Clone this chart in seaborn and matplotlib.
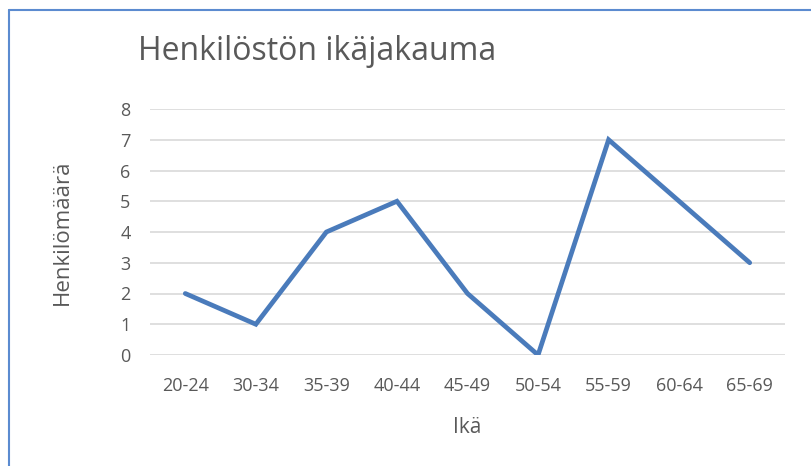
import pandas as pd
import matplotlib.pyplot as plt
from matplotlib.lines import Line2D
import seaborn as sns

# Data
ages = ['20-24', '30-34', '35-39', '40-44', '45-49', '50-54', '55-59', '60-64', '65-69']
counts = [2, 1, 4, 5, 2, 0, 7, 5, 3]

df = pd.DataFrame({'Ikä': ages, 'Henkilömäärä': counts})

sns.set_style("white")
plt.rcParams['font.family'] = ['Open Sans', 'DejaVu Sans']

text_color = '#595959'

fig = plt.figure(figsize=(8.12, 4.66), dpi=100)
ax = fig.add_axes([150 / 812, 1 - 355 / 466, 635 / 812, 246 / 466])

sns.lineplot(data=df, x='Ikä', y='Henkilömäärä', sort=False,
             color='#4a7bbb', linewidth=3.4, ax=ax,
             solid_capstyle='round', solid_joinstyle='miter')

ax.set_xlim(-0.5, len(ages) - 0.5)
ax.set_ylim(0, 8)
ax.set_yticks(range(0, 9))
ax.grid(axis='y', color='#d9d9d9', linewidth=1.2)
ax.set_axisbelow(True)
for s in ax.spines.values():
    s.set_visible(False)
ax.tick_params(axis='both', length=0, labelsize=13, colors=text_color)
ax.tick_params(axis='x', pad=16)
ax.tick_params(axis='y', pad=14)

ax.set_xlabel('Ikä', fontsize=15, color=text_color, labelpad=16)
ax.set_ylabel('Henkilömäärä', fontsize=16, color=text_color, labelpad=34)

fig.text(138 / 812, 1 - 51 / 466, 'Henkilöstön ikäjakauma', fontsize=23,
         color=text_color, va='center', ha='left')

# chart border (top and left edges visible)
border = '#5b8bd0'
fig.add_artist(Line2D([9 / 812, 1], [1 - 10 / 466, 1 - 10 / 466], color=border, linewidth=1.5,
                      transform=fig.transFigure))
fig.add_artist(Line2D([9 / 812, 9 / 812], [0, 1 - 10 / 466], color=border, linewidth=1.5,
                      transform=fig.transFigure))

plt.savefig('out.png', dpi=100)
